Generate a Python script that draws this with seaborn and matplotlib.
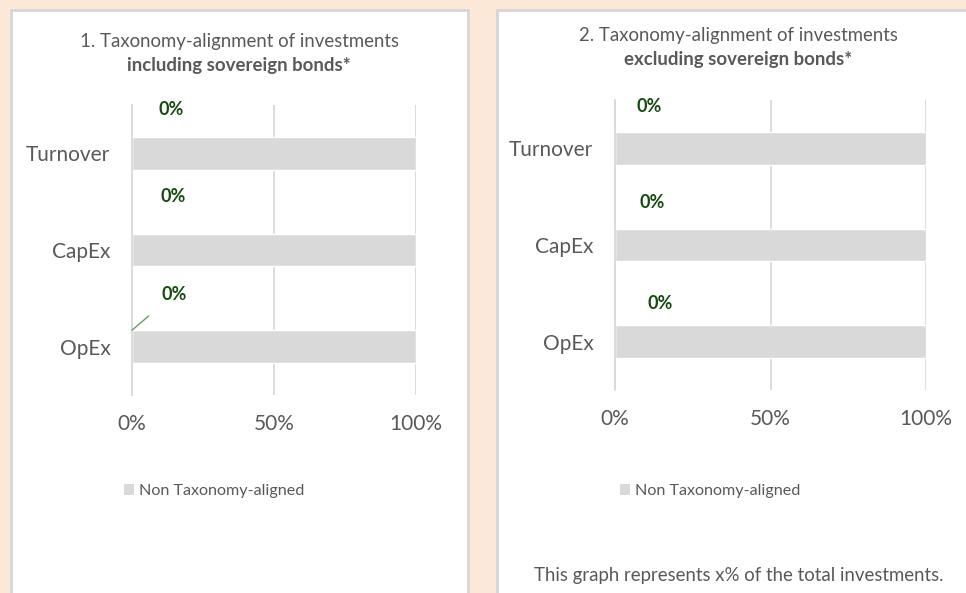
import pandas as pd
import seaborn as sns
import matplotlib.pyplot as plt
from matplotlib.patches import Rectangle, Patch

# data
categories = ['Turnover', 'CapEx', 'OpEx']
aligned_incl = [0, 0, 0]
non_aligned_incl = [100, 100, 100]
aligned_excl = [0, 0, 0]
non_aligned_excl = [100, 100, 100]
x_ticks = [0, 50, 100]
x_tick_labels = ['0%', '50%', '100%']

titles = ['1. Taxonomy-alignment of investments', '2. Taxonomy-alignment of investments']
subtitles = ['including sovereign bonds*', 'excluding sovereign bonds*']
legend_label = 'Non Taxonomy-aligned'
footnote = 'This graph represents x% of the total investments.'

# colours
BG = '#fbe8d6'
GRAY_BAR = '#d9d9d9'
TEXT = '#595959'
GREEN = '#174a10'

sns.set_style('white')
plt.rcParams['font.family'] = ['Lato', 'DejaVu Sans']

W, H = 966, 593
fig = plt.figure(figsize=(W / 100, H / 100), dpi=100, facecolor=BG)

def fx(px):
    return px / W

def fy(py):
    return 1 - py / H

# white panels
fig.patches.append(Rectangle((fx(11), fy(700)), fx(468 - 11), 690 / H, transform=fig.transFigure,
                             facecolor='white', edgecolor='#d6d6d6', linewidth=2, zorder=-5))
fig.patches.append(Rectangle((fx(497), fy(700)), fx(600), 690 / H, transform=fig.transFigure,
                             facecolor='white', edgecolor='#d6d6d6', linewidth=2, zorder=-5))

panels = [
    dict(box=(132, 105, 416, 395), aligned=aligned_incl, non=non_aligned_incl,
         title_x=239, title_y=(41, 65), legend_xy=(124, 491),
         label_off=[(39, 44), (41, 54), (42, 52)], leader=[False, False, True]),
    dict(box=(615, 100, 926, 390), aligned=aligned_excl, non=non_aligned_excl,
         title_x=738, title_y=(35, 59), legend_xy=(620, 491),
         label_off=[(34, 42), (37, 43), (45, 38)], leader=[False, False, False]),
]

for i, p in enumerate(panels):
    x0, y0, x1, y1 = p['box']
    ax = fig.add_axes([fx(x0), fy(y1), fx(x1 - x0), (y1 - y0) / H])
    ax.set_facecolor('none')

    df = pd.DataFrame({'category': categories, 'aligned': p['aligned'], 'non': p['non']})
    sns.barplot(data=df, x='non', y='category', orient='h', color=GRAY_BAR,
                width=0.34, saturation=1, ax=ax)
    sns.barplot(data=df, x='aligned', y='category', orient='h', color='#2e7d32',
                width=0.34, saturation=1, ax=ax)

    ax.set_xlim(0, 100)
    ax.set_xlabel('')
    ax.set_ylabel('')
    ax.set_xticks(x_ticks)
    ax.set_xticklabels(x_tick_labels)
    ax.grid(axis='x', color=GRAY_BAR, linewidth=1.3)
    ax.set_axisbelow(True)
    for s in ['top', 'right', 'bottom']:
        ax.spines[s].set_visible(False)
    ax.spines['left'].set_color(GRAY_BAR)
    ax.spines['left'].set_linewidth(1.3)

    ax.tick_params(axis='x', length=0, pad=13.5, labelsize=15, labelcolor=TEXT)
    ax.tick_params(axis='y', which='major', length=0, pad=15.5, labelsize=15, labelcolor=TEXT)
    ax.set_yticks([-0.5, 0.5, 1.5, 2.5], minor=True)
    ax.tick_params(axis='y', which='minor', length=5, width=1.3, color=GRAY_BAR)

    # data labels for aligned share
    for j, v in enumerate(p['aligned']):
        dx, dy = p['label_off'][j]
        arrow = dict(arrowstyle='-', color='#6b9b6b', lw=1,
                     shrinkA=11, shrinkB=0) if p['leader'][j] else None
        ax.annotate(f'{v:.0f}%', xy=(v, j - 0.17 if p['leader'][j] else j),
                    xytext=(dx * 0.72, (dy - (16 if p['leader'][j] else 0)) * 0.72),
                    textcoords='offset points', ha='center', va='center',
                    fontsize=13, fontweight='bold', color=GREEN, arrowprops=arrow)

    # titles
    fig.text(fx(p['title_x']), fy(p['title_y'][0]), titles[i], ha='center', va='center',
             fontsize=13.4, color=TEXT)
    fig.text(fx(p['title_x']), fy(p['title_y'][1]), subtitles[i], ha='center', va='center',
             fontsize=13.4, fontweight='bold', color=TEXT)

    # legend
    handle = Patch(facecolor=GRAY_BAR, edgecolor='none', label=legend_label)
    ax.legend(handles=[handle], loc='center left', frameon=False, fontsize=11.6,
              labelcolor=TEXT, handlelength=0.62, handleheight=0.62, handletextpad=0.3,
              borderpad=0, borderaxespad=0,
              bbox_to_anchor=(fx(p['legend_xy'][0]), fy(p['legend_xy'][1])),
              bbox_transform=fig.transFigure)

fig.text(fx(739), fy(575), footnote, ha='center', va='center', fontsize=13.4, color=TEXT)

fig.savefig('out.png', dpi=100, facecolor=BG)
